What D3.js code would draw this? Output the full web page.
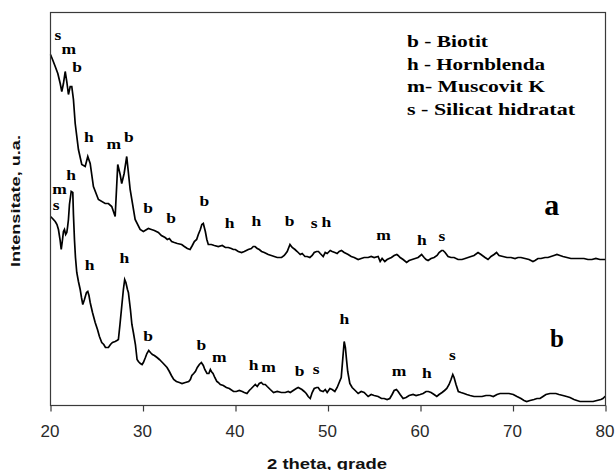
<!DOCTYPE html>
<html><head><meta charset="utf-8">
<script src="https://cdn.jsdelivr.net/npm/d3@7"></script>
<style>body{margin:0;background:#fff}</style>
</head><body>
<svg id="chart" width="615" height="470"></svg>
<script>
// ---- DATA ----
const xTicks = [20, 30, 40, 50, 60, 70, 80];
const xTitle = "2 theta, grade";
const yTitle = "Intensitate, u.a.";
const legendItems = ["b - Biotit", "h - Hornblenda", "m- Muscovit K", "s - Silicat hidratat"];

// Curve a (2 theta, intensity a.u.)
const thetaA = [20.00,20.22,20.51,20.79,21.05,21.22,21.40,21.59,21.76,21.94,
22.13,22.30,22.48,22.67,23.02,23.38,23.75,24.03,24.29,24.64,
25.18,25.91,26.26,26.62,26.99,27.27,27.53,27.70,27.96,28.24,
28.61,29.15,29.69,30.04,30.58,30.91,31.23,31.66,31.99,32.39,
32.63,32.85,33.10,33.39,33.71,34.18,34.47,34.79,35.09,35.33,
35.55,35.80,35.98,36.20,36.36,36.52,36.74,36.90,37.06,37.39,
37.71,38.14,38.57,38.90,39.22,39.55,39.76,39.98,40.30,40.66,
40.95,41.17,41.38,41.71,41.92,42.11,42.35,42.57,42.82,43.11,
43.33,43.54,43.87,44.19,44.51,44.98,45.27,45.59,45.89,46.13,
46.43,46.67,47.00,47.21,47.51,47.75,48.04,48.29,48.51,48.76,
48.97,49.16,49.48,49.70,49.91,50.24,50.45,50.74,50.99,51.21,
51.46,51.75,51.97,52.18,52.51,52.83,53.26,53.59,53.91,54.34,
54.67,54.99,55.42,55.64,55.85,56.14,56.39,56.61,56.86,57.15,
57.44,57.58,57.80,58.12,58.50,58.77,59.09,59.42,59.74,60.12,
60.39,60.60,60.82,61.14,61.47,61.79,62.01,62.28,62.44,62.66,
62.98,63.30,63.63,64.06,64.49,64.82,65.14,65.46,65.79,66.22,
66.54,66.98,67.30,67.62,67.95,68.22,68.49,68.92,69.35,69.78,
70.22,70.54,70.86,71.30,71.73,72.16,72.38,72.70,73.02,73.46,
73.78,74.10,74.43,74.75,75.08,75.40,75.83,76.26,76.70,77.13,
77.67,78.10,78.53,78.96,79.40,80.00];
const intensityA = [351,346,339,332,322,314,322,334,324,311,
319,319,306,282,256,241,239,249,242,219,
206,202,202,199,189,241,231,222,232,249,
216,186,176,174,177,176,175,173,170,168,
166,167,164,163,162,161,159,157,156,160,
164,166,171,176,181,182,174,166,161,161,
160,159,160,158,158,157,156,156,154,153,
154,155,156,157,159,159,157,156,154,153,
152,151,150,149,148,148,150,154,161,158,
156,154,151,152,149,149,148,150,153,154,
154,152,149,153,152,155,154,153,152,154,
155,153,152,151,149,148,146,147,148,148,
149,148,149,144,147,144,146,147,148,150,
151,150,148,146,143,145,146,147,148,151,
148,146,145,147,148,150,153,155,155,153,
149,148,148,146,146,147,148,149,150,153,
151,148,146,149,151,153,150,149,148,148,
147,148,148,147,146,144,145,147,147,148,
148,149,150,151,150,149,148,147,147,147,
147,146,146,147,146,146];

// Curve b
const thetaB = [20.00,20.22,20.51,20.70,20.86,21.03,21.16,21.30,21.40,21.51,
21.64,21.76,21.84,21.94,22.05,22.24,22.41,22.48,22.59,22.70,
22.84,23.02,23.21,23.35,23.49,23.67,23.89,24.03,24.16,24.29,
24.54,24.83,25.08,25.29,25.54,25.76,25.94,26.26,26.48,26.70,
26.99,27.18,27.34,27.51,27.70,27.88,28.02,28.15,28.32,28.42,
28.64,28.80,28.96,29.18,29.36,29.50,29.72,29.90,30.04,30.26,
30.42,30.62,30.80,31.02,31.23,31.52,31.77,31.99,32.20,32.60,
32.85,33.07,33.32,33.61,33.93,34.22,34.58,34.94,35.12,35.28,
35.48,35.66,35.87,36.09,36.31,36.52,36.68,36.92,37.12,37.28,
37.39,37.57,37.76,37.98,38.14,38.36,38.68,39.01,39.33,39.79,
40.09,40.41,40.73,40.95,41.24,41.49,41.71,41.92,42.14,42.35,
42.57,42.79,43.00,43.22,43.43,43.76,44.11,44.51,44.95,45.38,
45.70,45.92,46.24,46.57,46.78,47.18,47.43,47.65,47.86,48.08,
48.29,48.51,48.78,48.94,49.16,49.48,49.70,49.91,50.21,50.45,
50.74,50.99,51.21,51.43,51.59,51.75,51.88,52.00,52.13,52.36,
52.61,52.94,53.26,53.59,53.91,54.34,54.67,54.99,55.42,55.78,
56.07,56.39,56.68,56.93,57.15,57.40,57.58,57.80,58.12,58.44,
58.77,59.20,59.52,59.96,60.28,60.60,60.85,61.14,61.47,61.76,
62.01,62.33,62.60,62.84,63.09,63.30,63.49,63.63,63.84,64.09,
64.38,64.71,65.00,65.36,65.79,66.22,66.65,67.08,67.52,67.87,
68.27,68.60,68.95,69.24,69.57,70.03,70.43,70.86,71.19,71.48,
71.84,72.27,72.59,72.92,73.24,73.56,74.00,74.35,74.64,74.97,
75.40,75.80,76.16,76.59,76.91,77.24,77.67,78.10,78.67,79.07,
79.50,79.72,79.94,80.00];
const intensityB = [189,187,184,181,176,166,156,166,174,176,
171,173,178,186,201,214,213,191,166,148,
133,124,116,108,101,106,113,114,110,103,
93,83,76,69,63,61,58,58,61,63,
64,65,66,81,99,116,126,123,116,113,
96,81,73,61,46,44,42,41,43,48,
52,55,53,51,50,48,46,44,42,38,
34,30,26,24,23,22,23,24,26,30,
32,34,38,41,43,40,36,32,32,36,
34,32,28,24,23,21,20,18,17,14,
14,15,14,13,12,15,17,19,21,19,
22,23,21,21,19,16,13,14,13,13,
14,13,15,17,18,16,14,12,9,7,
13,17,18,18,15,14,16,13,17,16,
14,18,23,28,46,64,58,46,34,22,
18,15,12,14,13,9,11,10,9,7,
7,6,7,11,15,16,14,11,7,8,
10,11,10,11,12,14,14,13,11,9,
11,13,15,17,21,26,31,28,21,14,
13,12,11,10,9,9,9,10,10,9,
11,12,12,12,12,11,9,7,5,4,
5,6,7,7,9,11,12,12,12,11,
10,9,8,6,5,4,4,4,4,5,
6,7,9,9];

// Peak labels (letter, 2 theta, intensity of label baseline)
const peakLettersA = ["s","m","b","h","m","b","b","b","b","h","h","b","s","h","m","h","s"];
const peakThetaA   = [20.79,21.98,22.88,24.14,26.84,28.46,30.55,33.03,36.63,39.36,42.25,45.84,48.51,49.81,55.99,60.14,62.30];
const peakIntA     = [366,352,334,264,257,264,193,183,200,178,180,180,178,179,166,161,165];

const peakLettersB = ["s","m","h","h","h","b","b","m","h","m","b","s","h","m","h","s"];
const peakThetaB   = [20.62,20.97,22.24,24.24,27.99,30.55,36.31,38.25,41.95,43.57,46.92,48.73,51.78,57.69,60.68,63.44];
const peakIntB     = [196,212,226,136,143,65,56,44,36,34,30,32,82,30,28,46];

const curveNames = ["a", "b"];
const curveNameTheta = [74.19, 74.75];
const curveNameInt = [190.7, 59];

// ---- LAYOUT ----
const svg = d3.select("#chart");
const plot = {left: 50.5, right: 605.5, top: 12.5, bottom: 405.5};
const x = d3.scaleLinear().domain([20, 80]).range([plot.left, plot.right]);
const y = d3.scaleLinear().domain([0, 393]).range([plot.bottom, plot.top]);
const serif = "'Liberation Serif', 'Times New Roman', serif";
const sans = "'Liberation Sans', Arial, sans-serif";

svg.append("rect").attr("width", 615).attr("height", 470).attr("fill", "#fff");

// curves
const line = d3.line().x(d => x(d[0])).y(d => y(d[1]));
const seriesA = d3.zip(thetaA, intensityA);
const seriesB = d3.zip(thetaB, intensityB);
[seriesA, seriesB].forEach(s => {
  svg.append("path").datum(s).attr("d", line)
    .attr("fill", "none").attr("stroke", "#000").attr("stroke-width", 1.7)
    .attr("stroke-linejoin", "miter");
});

// frame
svg.append("rect")
  .attr("x", plot.left).attr("y", plot.top)
  .attr("width", plot.right - plot.left).attr("height", plot.bottom - plot.top)
  .attr("fill", "none").attr("stroke", "#3a3a3a").attr("stroke-width", 1.2);

// x axis
const xAxis = d3.axisBottom(x).tickValues(xTicks).tickFormat(d3.format("d"))
  .tickSize(6).tickSizeOuter(0).tickPadding(13.5);
const gx = svg.append("g").attr("transform", `translate(0,${plot.bottom})`).call(xAxis);
gx.select(".domain").remove();
gx.selectAll(".tick line").attr("stroke", "#3a3a3a").attr("stroke-width", 1.2);
gx.selectAll(".tick text").attr("font-family", sans).attr("font-size", 17)
  .attr("fill", "#2a2a2a").attr("dx", "-1");

// axis titles
svg.append("text").attr("x", 327).attr("y", 468.5).attr("text-anchor", "middle")
  .attr("font-family", sans).attr("font-weight", "bold").attr("font-size", 15)
  .attr("textLength", 120).attr("lengthAdjust", "spacingAndGlyphs")
  .attr("fill", "#111").text(xTitle);
svg.append("text").attr("transform", "translate(20,201) rotate(-90)")
  .attr("text-anchor", "middle")
  .attr("font-family", sans).attr("font-weight", "bold").attr("font-size", 12)
  .attr("textLength", 132).attr("lengthAdjust", "spacingAndGlyphs")
  .attr("fill", "#111").text(yTitle);

// peak labels
function drawPeaks(letters, th, inten) {
  letters.forEach((l, i) => {
    svg.append("g").attr("transform", `translate(${x(th[i])},${y(inten[i])}) scale(1.25,1)`)
      .append("text").attr("text-anchor", "middle")
      .attr("font-family", serif).attr("font-weight", "bold").attr("font-size", 14)
      .attr("fill", "#000").text(l);
  });
}
drawPeaks(peakLettersA, peakThetaA, peakIntA);
drawPeaks(peakLettersB, peakThetaB, peakIntB);

// curve names
const nameSizes = [30, 25];
curveNames.forEach((n, i) => {
  svg.append("text").attr("x", x(curveNameTheta[i])).attr("y", y(curveNameInt[i]))
    .attr("text-anchor", "middle").attr("font-family", serif).attr("font-weight", "bold")
    .attr("font-size", nameSizes[i]).attr("fill", "#000").text(n);
});

// legend
const legendBaselines = [46.7, 70, 91.7, 115];
const legendWidths = [81, 138, 138, 168];
legendItems.forEach((t, i) => {
  svg.append("text").attr("x", 407).attr("y", legendBaselines[i])
    .attr("font-family", serif).attr("font-weight", "bold").attr("font-size", 16)
    .attr("textLength", legendWidths[i]).attr("lengthAdjust", "spacingAndGlyphs")
    .attr("fill", "#000").style("white-space", "pre").text(t);
});
</script>
</body></html>
